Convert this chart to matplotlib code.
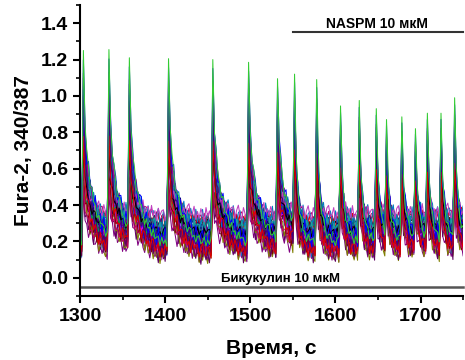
import numpy as np
import matplotlib
matplotlib.use('Agg')
import matplotlib.pyplot as plt

plt.rcParams['font.family'] = ['Liberation Sans', 'DejaVu Sans']
plt.rcParams['font.weight'] = 'bold'

# spike events (time in s, upper envelope of the peak)
spike_times = [1304, 1334, 1358, 1404, 1456, 1498, 1532, 1552, 1578, 1606,
               1628, 1648, 1660, 1678, 1694, 1708, 1724, 1740]
spike_peaks = [1.25, 1.255, 1.21, 1.205, 1.20, 1.185, 1.095, 1.12, 1.09, 0.945,
               0.975, 0.93, 0.87, 0.885, 0.82, 0.905, 0.905, 0.99]

# fraction of the peak left, sampled every 2 s after a spike
decay_before = [1.0, 0.62, 0.47, 0.38, 0.31, 0.26, 0.22, 0.18, 0.15, 0.12,
                0.10, 0.08, 0.065, 0.05, 0.04, 0.03, 0.02, 0.01]
decay_naspm = [1.0, 0.5, 0.3, 0.19, 0.12, 0.08, 0.05, 0.03, 0.02, 0.01]
naspm_start = 1550

# per cell: resting level and share of the peak it reaches
cell_base = [0.30, 0.22, 0.18, 0.26, 0.15, 0.20, 0.24, 0.13, 0.28, 0.19,
             0.21, 0.17, 0.33, 0.23, 0.16, 0.25, 0.14, 0.27, 0.20, 0.31,
             0.18, 0.22, 0.12, 0.26, 0.19, 0.24, 0.17, 0.29, 0.21, 0.32,
             0.16, 0.27, 0.13, 0.23, 0.35, 0.19, 0.25, 0.15, 0.22, 0.20]
cell_gain = [0.55, 0.45, 0.80, 0.35, 0.60, 0.40, 0.70, 0.30, 0.50, 0.65,
             0.42, 0.58, 0.48, 0.75, 0.33, 0.52, 0.62, 0.38, 0.68, 0.44,
             0.56, 0.36, 0.46, 0.72, 0.54, 0.85, 0.40, 0.64, 0.88, 0.50,
             0.34, 0.60, 0.78, 0.43, 0.28, 0.66, 0.47, 0.57, 0.95, 1.00]
cell_colors = ['#000000', '#E00000', '#0000FF', '#E000E0', '#808000',
               '#000080', '#8000FF', '#800080', '#800000', '#008080',
               '#A000A0', '#0080C0', '#C00060', '#20A0A0', '#600060',
               '#00A040', '#C040C0', '#400080']

# small wiggle, read as typical sample-to-sample roughness of the traces
wiggle = [0.02, -0.03, 0.01, 0.035, -0.01, -0.025, 0.03, 0.0, -0.035, 0.015,
          0.025, -0.02, 0.005, -0.03, 0.02, 0.035, -0.015, -0.005, 0.03, -0.03,
          0.01, -0.02, 0.025, 0.0, -0.035, 0.03, -0.01, 0.015, -0.025, 0.035,
          -0.02, 0.005, 0.02, -0.03, 0.03, -0.015, 0.01, -0.035, 0.025, -0.005,
          0.015]

bic_label = 'Бикукулин 10 мкМ'
naspm_label = 'NASPM 10 мкМ'

t = np.arange(1300, 1752, 2)

fig = plt.figure(figsize=(4.65, 3.6), dpi=100)
ax = fig.add_axes([0.172, 0.178, 0.824, 0.808])

n = len(cell_base)
peak_idx = [int((ts - 1300) / 2) for ts in spike_times]
for i in range(n):
    rise = np.zeros(len(t))
    for ts, pk, j0 in zip(spike_times, spike_peaks, peak_idx):
        prof = decay_before if ts < naspm_start else decay_naspm
        amp = cell_gain[i] * (pk - cell_base[i])
        for k, f in enumerate(prof):
            if j0 + k < len(t):
                rise[j0 + k] = max(rise[j0 + k], amp * f)
    y = cell_base[i] + rise
    for j in range(len(t)):
        if j in peak_idx:
            continue
        y[j] += wiggle[(j + i * 7) % len(wiggle)] * (0.8 + 0.4 * (i % 3))
    if i == n - 1:
        c = '#33CC33'
    elif i == n - 2:
        c = '#0000FF'
    else:
        c = cell_colors[i % len(cell_colors)]
    ax.plot(t, y, color=c, lw=0.75)

# treatment bars
ax.plot([1300, 1750], [-0.05, -0.05], color='#555555', lw=1.8, clip_on=False)
ax.plot([1550, 1750], [1.35, 1.35], color='#333333', lw=1.5, clip_on=False)
ax.text(1536, -0.022, bic_label, fontsize=9.5, ha='center', va='baseline')
ax.text(1649, 1.373, naspm_label, fontsize=10, ha='center', va='baseline')

ax.set_xlim(1300, 1750)
ax.set_ylim(-0.1, 1.5)
ax.set_xticks([1300, 1400, 1500, 1600, 1700])
ax.set_xticks(np.arange(1350, 1751, 100), minor=True)
ax.set_yticks(np.arange(0, 1.41, 0.2))
ax.set_yticks(np.arange(-0.1, 1.51, 0.2), minor=True)
ax.yaxis.set_major_formatter(matplotlib.ticker.FormatStrFormatter('%.1f'))

for s in ['top', 'right']:
    ax.spines[s].set_visible(False)
for s in ['left', 'bottom']:
    ax.spines[s].set_linewidth(1.5)
ax.tick_params(which='major', direction='out', length=5, width=1.5, labelsize=14)
ax.tick_params(which='minor', direction='out', length=3, width=1.2)

ax.set_xlabel('Время, с', fontsize=15, fontweight='bold', labelpad=10)
ax.set_ylabel('Fura-2, 340/387', fontsize=15, fontweight='bold', labelpad=6)

plt.savefig('out.png', dpi=100)
plt.close()
